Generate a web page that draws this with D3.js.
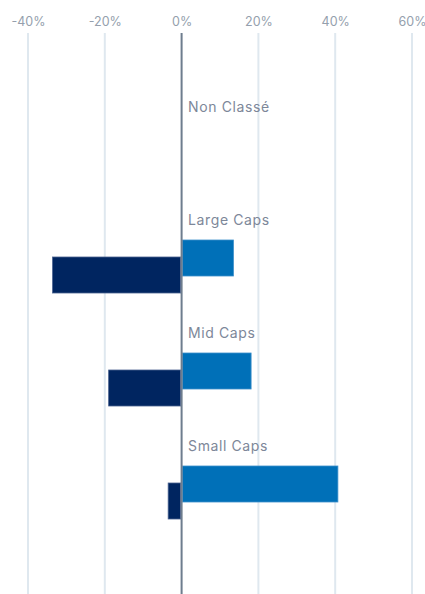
<!DOCTYPE html>
<html>
<head>
<meta charset="utf-8">
<script src="https://cdn.jsdelivr.net/npm/d3@7"></script>
<style>
  body { margin: 0; background: #fff; }
  svg { display: block; font-family: "Inter", "Open Sans", sans-serif; }
</style>
</head>
<body>
<div id="svganchor"></div>
<script>
let width = 425;
let height = 594;
let margin = ({top: 33, right: 13, bottom: 0, left: 28});

// Categories (top to bottom) and the two series
let categories = ["Non Classé", "Large Caps", "Mid Caps", "Small Caps"];
let seriesNames = ["Fonds", "Indice"];
let fondsValues = [null, 13.5, 18.1, 40.7];
let indiceValues = [null, -33.6, -19.0, -3.5];
let tickValues = [-40, -20, 0, 20, 40, 60];

let colors = d3.scaleOrdinal()
    .domain(seriesNames)
    .range(["#0070b8", "#002560"]);
let strokes = d3.scaleOrdinal()
    .domain(seriesNames)
    .range(["#3d8fca", "#4a6290"]);

let svg = d3.select("#svganchor")
    .append("svg")
    .attr("width", width)
    .attr("height", height);

let xScale = d3.scaleLinear()
    .domain([-40, 60])
    .range([margin.left, width - margin.right]);

// each category gets one band, label sits at band top
let yScale = d3.scaleBand()
    .domain(categories)
    .range([90, 542]);

// offsets of the two bars inside a band (they overlap vertically)
let ySeries = d3.scalePoint()
    .domain(seriesNames)
    .range([37, 54]);
let barHeight = 36;

// gridlines
svg.append("g")
    .selectAll("line")
    .data(tickValues.filter(d => d !== 0))
    .join("line")
    .attr("x1", d => xScale(d))
    .attr("x2", d => xScale(d))
    .attr("y1", margin.top)
    .attr("y2", height)
    .attr("stroke", "#dfe8ef")
    .attr("stroke-width", 2);

// top axis labels
let xAxis = d3.axisTop(xScale)
    .tickValues(tickValues)
    .tickSize(0)
    .tickPadding(0)
    .tickFormat(d => (d < 0 ? "-" : "") + Math.abs(d) + "%");

svg.append("g")
    .attr("transform", "translate(0,26)")
    .call(xAxis)
    .call(g => g.select(".domain").remove())
    .selectAll("text")
    .attr("fill", "#959fad")
    .style("font-size", "12.5px")
    .style("font-family", "Inter, sans-serif");

// table of bars built from the series arrays
let bars = [];
categories.forEach(function(c, i) {
    if (fondsValues[i] !== null) bars.push({cat: c, series: "Fonds", value: fondsValues[i]});
    if (indiceValues[i] !== null) bars.push({cat: c, series: "Indice", value: indiceValues[i]});
});

svg.append("g")
    .selectAll("rect")
    .data(bars)
    .join("rect")
    .attr("x", d => d.value >= 0 ? xScale(0) + 1 : xScale(d.value))
    .attr("width", d => Math.abs(xScale(d.value) - xScale(0)) - 1)
    .attr("y", d => yScale(d.cat) + ySeries(d.series))
    .attr("height", barHeight)
    .attr("fill", d => colors(d.series))
    .attr("stroke", d => strokes(d.series))
    .attr("stroke-width", 0.8);

// zero line
svg.append("line")
    .attr("x1", xScale(0))
    .attr("x2", xScale(0))
    .attr("y1", margin.top)
    .attr("y2", height)
    .attr("stroke", "#6e7d8e")
    .attr("stroke-width", 2);

// category labels
svg.append("g")
    .selectAll("text")
    .data(categories)
    .join("text")
    .attr("x", xScale(0) + 6.5)
    .attr("y", d => yScale(d) + 22)
    .attr("fill", "#7d8799")
    .style("font-size", "14px")
    .style("letter-spacing", "0.6px")
    .text(d => d);
</script>
</body>
</html>
